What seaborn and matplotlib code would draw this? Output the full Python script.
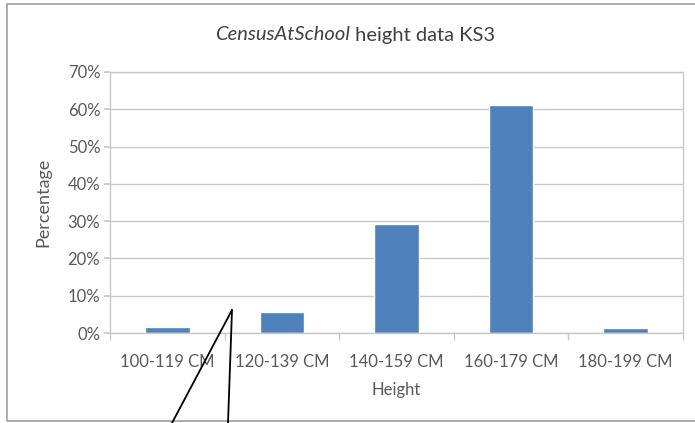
import numpy as np
import pandas as pd
import matplotlib
matplotlib.use("Agg")
import matplotlib.pyplot as plt
import seaborn as sns
from matplotlib.ticker import PercentFormatter, FixedLocator
from matplotlib.lines import Line2D
from matplotlib.patches import Rectangle

# Dados do gráfico
categorias = ["100-119 CM", "120-139 CM", "140-159 CM", "160-179 CM", "180-199 CM"]
percentagens = [0.017, 0.055, 0.292, 0.611, 0.014]

sns.set_theme(style="white")
plt.rcParams['font.family'] = ['Lato', 'DejaVu Sans']

W, H = 695, 423
fig = plt.figure(figsize=(W / 100, H / 100), dpi=100)

# Área do gráfico (em pixels convertidos)
esq, topo, dir_, base = 110, 72, 683, 333
ax = fig.add_axes([esq / W, 1 - base / H, (dir_ - esq) / W, (base - topo) / H])

df = pd.DataFrame({"Height": categorias, "Percentage": percentagens})
sns.barplot(data=df, x="Height", y="Percentage", color="#4F81BD", saturation=1,
            width=0.39, ax=ax)

texto = "#595959"
grade = "#C8C8C8"

ax.set_ylim(0, 0.70)
ax.set_xlim(-0.5, len(categorias) - 0.5)
ax.yaxis.set_major_locator(FixedLocator(np.arange(0, 0.71, 0.10)))
ax.yaxis.set_major_formatter(PercentFormatter(1.0, decimals=0))
ax.grid(axis="y", color=grade, linewidth=1)
ax.set_axisbelow(True)

for lado in ["left", "right", "top", "bottom"]:
    ax.spines[lado].set_visible(True)
    ax.spines[lado].set_color(grade)
    ax.spines[lado].set_linewidth(1)

ax.tick_params(axis="y", which="major", direction="out", length=4, color=grade,
               labelsize=12, labelcolor=texto, pad=3, left=True)
ax.tick_params(axis="x", which="major", length=0, labelsize=12, labelcolor=texto, pad=15)
ax.set_xticks(np.arange(-0.5, len(categorias)), minor=True)
ax.tick_params(axis="x", which="minor", direction="out", length=5, color=grade, bottom=True)

ax.set_xlabel("Height", fontsize=12, color=texto, labelpad=9)
ax.set_ylabel("Percentage", fontsize=13, color=texto, labelpad=12)

# Título com parte em itálico
fig.text(350 / W, 1 - 35 / H, "CensusAtSchool", style="italic", fontsize=14.5,
         color="#404040", ha="right", va="center")
fig.text(350 / W, 1 - 35 / H, " height data KS3", fontsize=14.5,
         color="#404040", ha="left", va="center")

# Moldura externa do gráfico
fig.add_artist(Rectangle((7 / W, 1 - 421 / H), 1.0, (421 - 4) / H, transform=fig.transFigure,
                         fill=False, edgecolor="#A0A0A0", linewidth=1.2))

# Linhas pretas de chamada
def pt(x, y):
    return x / W, 1 - y / H

for fim in [(172, 423), (228, 423)]:
    x0, y0 = pt(232, 310)
    x1, y1 = pt(*fim)
    fig.add_artist(Line2D([x0, x1], [y0, y1], color="black", linewidth=1.3,
                          transform=fig.transFigure))

plt.savefig("out.png", dpi=100)
